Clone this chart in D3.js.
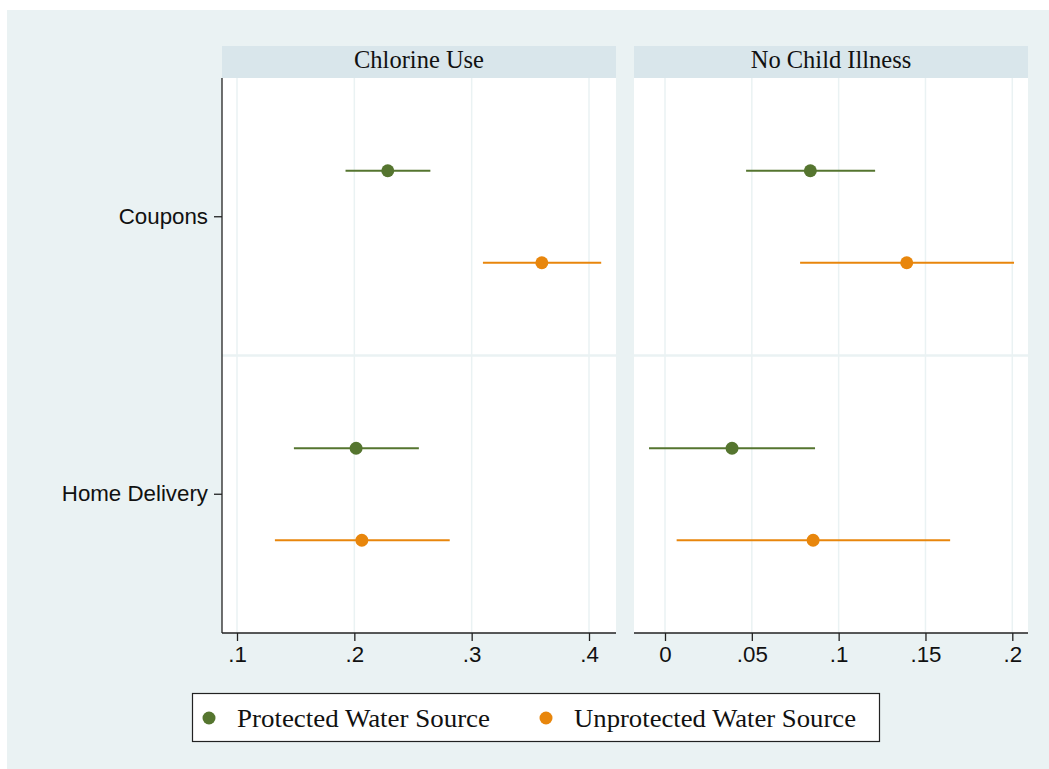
<!DOCTYPE html>
<html>
<head>
<meta charset="utf-8">
<script src="https://cdn.jsdelivr.net/npm/d3@7"></script>
<style>
	body { margin: 0; background: #ffffff; }
	svg { display: block; }
</style>
</head>
<body>
<svg id="graph"></svg>
<script>
// categories and series
const categories = ["Coupons", "Home Delivery"];
const panels = ["Chlorine Use", "No Child Illness"];
const seriesNames = ["Protected Water Source", "Unprotected Water Source"];
const seriesColors = ["#55752f", "#e8860c"];

// estimates [point, lower, upper] per panel, per category
const chlorineProtected = [[0.2285, 0.1925, 0.2648], [0.2015, 0.1485, 0.2550]];
const chlorineUnprotected = [[0.3598, 0.3096, 0.4104], [0.2064, 0.1323, 0.2813]];
const illnessProtected = [[0.0837, 0.0467, 0.1210], [0.0386, -0.0092, 0.0864]];
const illnessUnprotected = [[0.1392, 0.0778, 0.2010], [0.0853, 0.0067, 0.1642]];

// tick labels
const chlorineTicks = [0.1, 0.2, 0.3, 0.4];
const illnessTicks = [0, 0.05, 0.1, 0.15, 0.2];

const w = 1049;
const h = 769;
const svg = d3.select("#graph").attr("width", w).attr("height", h);

// outer background
svg.append("rect")
	.attr("x", 7).attr("y", 10)
	.attr("width", w - 7).attr("height", h - 10)
	.attr("fill", "#eaf2f3");

const plotTop = 78;
const plotBottom = 633;
const headerTop = 46;

const yScale = d3.scaleBand().domain(categories).range([plotTop, plotBottom]);
const offset = 46;

const panelDefs = [
	{
		name: panels[0], x0: 222, x1: 616,
		scale: d3.scaleLinear().domain([0.1, 0.4]).range([237, 589]),
		ticks: chlorineTicks, data: [chlorineProtected, chlorineUnprotected]
	},
	{
		name: panels[1], x0: 634, x1: 1028,
		scale: d3.scaleLinear().domain([0, 0.2]).range([665, 1012.3]),
		ticks: illnessTicks, data: [illnessProtected, illnessUnprotected]
	}
];

const fmt = (d) => (d === 0 ? "0" : d3.format("")(d).replace(/^0\./, "."));

panelDefs.forEach((p, pi) => {
	const g = svg.append("g");
	// header strip
	g.append("rect")
		.attr("x", p.x0).attr("y", headerTop)
		.attr("width", p.x1 - p.x0).attr("height", plotTop - headerTop)
		.attr("fill", "#d9e6eb");
	g.append("text")
		.attr("x", (p.x0 + p.x1) / 2).attr("y", 68)
		.attr("text-anchor", "middle")
		.attr("font-family", "Liberation Serif, Times New Roman, serif")
		.attr("font-size", 24.5)
		.attr("fill", "#111")
		.text(p.name);
	// plot area
	g.append("rect")
		.attr("x", p.x0).attr("y", plotTop)
		.attr("width", p.x1 - p.x0).attr("height", plotBottom - plotTop)
		.attr("fill", "#ffffff");
	// vertical grid
	g.selectAll(".grid").data(p.ticks).enter().append("line")
		.attr("x1", (d) => p.scale(d)).attr("x2", (d) => p.scale(d))
		.attr("y1", plotTop).attr("y2", plotBottom)
		.attr("stroke", "#eaf2f3").attr("stroke-width", 1.5);
	// separator between categories
	g.append("line")
		.attr("x1", p.x0).attr("x2", p.x1)
		.attr("y1", yScale(categories[1])).attr("y2", yScale(categories[1]))
		.attr("stroke", "#eaf2f3").attr("stroke-width", 2.5);

	// x axis
	const xAxis = d3.axisBottom(p.scale).tickValues(p.ticks).tickFormat(fmt).tickSize(8).tickPadding(5);
	const ax = g.append("g")
		.attr("transform", "translate(0," + plotBottom + ")")
		.call(xAxis);
	ax.select(".domain").attr("d", "M" + p.x0 + ",0H" + p.x1).attr("stroke", "#222").attr("stroke-width", 1.3);
	ax.selectAll(".tick line").attr("stroke", "#222").attr("stroke-width", 1.3);
	ax.selectAll(".tick text")
		.attr("font-family", "Liberation Sans, Arial, sans-serif")
		.attr("font-size", 22.3)
		.attr("fill", "#111");

	// y axis on first panel only
	if (pi === 0) {
		const yAxis = d3.axisLeft(yScale).tickSize(8).tickPadding(6);
		const ay = g.append("g")
			.attr("transform", "translate(" + p.x0 + ",0)")
			.call(yAxis);
		ay.select(".domain").attr("d", "M0," + plotTop + "V" + plotBottom).attr("stroke", "#222").attr("stroke-width", 1.3);
		ay.selectAll(".tick line").attr("stroke", "#222").attr("stroke-width", 1.3);
		ay.selectAll(".tick text")
			.attr("font-family", "Liberation Sans, Arial, sans-serif")
			.attr("font-size", 22.3)
			.attr("fill", "#111");
	}

	// error bars and points
	p.data.forEach((series, si) => {
		const dy = si === 0 ? -offset : offset;
		const cy = (d, i) => yScale(categories[i]) + yScale.bandwidth() / 2 + dy;
		g.selectAll(".ci" + si).data(series).enter().append("line")
			.attr("x1", (d) => p.scale(d[1])).attr("x2", (d) => p.scale(d[2]))
			.attr("y1", cy).attr("y2", cy)
			.attr("stroke", seriesColors[si]).attr("stroke-width", 2);
		g.selectAll(".pt" + si).data(series).enter().append("circle")
			.attr("cx", (d) => p.scale(d[0])).attr("cy", cy)
			.attr("r", 6.5)
			.attr("fill", seriesColors[si]);
	});
});

// legend
const legend = svg.append("g");
legend.append("rect")
	.attr("x", 192.5).attr("y", 693.5)
	.attr("width", 687).attr("height", 48)
	.attr("fill", "#ffffff").attr("stroke", "#222").attr("stroke-width", 1.2);
const legendX = [209, 546];
const legendTextLen = [253, 282];
seriesNames.forEach((s, i) => {
	legend.append("circle")
		.attr("cx", legendX[i]).attr("cy", 718).attr("r", 6.5)
		.attr("fill", seriesColors[i]);
	legend.append("text")
		.attr("x", legendX[i] + 28).attr("y", 727)
		.attr("font-family", "Liberation Serif, Times New Roman, serif")
		.attr("font-size", 25)
		.attr("textLength", legendTextLen[i])
		.attr("lengthAdjust", "spacingAndGlyphs")
		.attr("fill", "#111")
		.text(s);
});
</script>
</body>
</html>
